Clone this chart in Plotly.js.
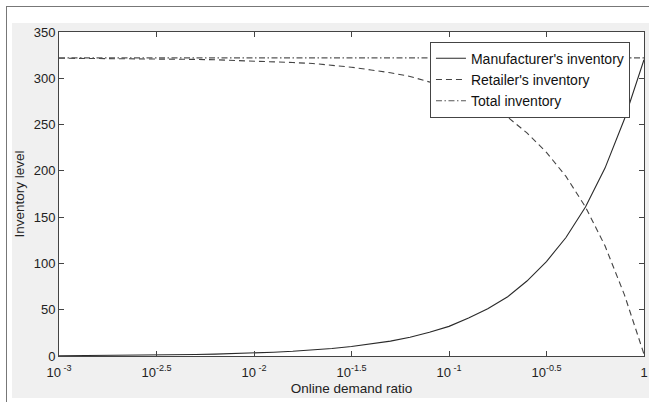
<!DOCTYPE html>
<html>
<head>
<meta charset="utf-8">
<script src="https://cdn.plot.ly/plotly-3.0.1.min.js"></script>
<style>
html,body{margin:0;padding:0;background:#fff;width:649px;height:402px;overflow:hidden;}
#frame{position:absolute;left:6px;top:6px;width:660px;height:420px;border-left:1.5px solid #777;border-top:1.5px solid #777;}
#chart{position:absolute;left:12px;top:23px;width:637px;height:375px;}
</style>
</head>
<body>
<div id="frame"></div>
<div id="chart"></div>
<script>
// Online demand ratio (x, log scale)
const ratio = [0.001, 0.00126, 0.00158, 0.002, 0.00251, 0.00316, 0.00398, 0.00501, 0.00631, 0.00794,
  0.01, 0.0126, 0.0158, 0.02, 0.0251, 0.0316, 0.0398, 0.0501, 0.0631, 0.0794,
  0.1, 0.126, 0.158, 0.2, 0.251, 0.316, 0.398, 0.501, 0.631, 0.794, 1];
const manufacturer = [0.32, 0.41, 0.51, 0.64, 0.81, 1.02, 1.28, 1.61, 2.03, 2.56,
  3.2, 4.1, 5.1, 6.4, 8.1, 10.2, 12.8, 16.1, 20.3, 25.6,
  32, 41, 51, 64, 81, 102, 128, 161, 203, 256, 320];
const retailer = [321.7, 321.6, 321.5, 321.4, 321.2, 321, 320.7, 320.4, 320, 319.4,
  319, 318, 317, 316, 314, 312, 309, 306, 302, 296,
  290, 281, 271, 258, 241, 220, 194, 161, 119, 66, 2];
const total = [322, 322, 322, 322, 322, 322, 322, 322, 322, 322,
  322, 322, 322, 322, 322, 322, 322, 322, 322, 322,
  322, 322, 322, 322, 322, 322, 322, 322, 322, 322, 322];
const seriesNames = ["Manufacturer's inventory", "Retailer's inventory", "Total inventory"];
const xTickVals = [0.001, 0.00316228, 0.01, 0.0316228, 0.1, 0.316228, 1];
const xTickText = ["10<sup> -3</sup>", "10<sup>-2.5</sup>", "10<sup> -2</sup>", "10<sup>-1.5</sup>", "10<sup> -1</sup>", "10<sup>-0.5</sup>", "1"];
const yTickVals = [0, 50, 100, 150, 200, 250, 300, 350];

const traces = [
  {x: ratio, y: manufacturer, name: seriesNames[0], mode: 'lines', line: {color: '#2a2a2a', width: 1.1, dash: 'solid'}},
  {x: ratio, y: retailer, name: seriesNames[1], mode: 'lines', line: {color: '#444', width: 1.1, dash: '6px,4px'}},
  {x: ratio, y: total, name: seriesNames[2], mode: 'lines', line: {color: '#555', width: 1.1, dash: '6px,2.5px,1.5px,2.5px'}}
];

const fam = 'Liberation Sans, Arial, sans-serif';
const axisCommon = {
  showline: true, linecolor: '#444', linewidth: 1, mirror: 'ticks',
  ticks: 'inside', ticklen: 5, tickcolor: '#444', showgrid: false, zeroline: false,
  tickfont: {family: fam, size: 13, color: '#222'}
};

const layout = {
  width: 637, height: 375,
  margin: {l: 47, r: 5, t: 9, b: 42},
  paper_bgcolor: '#f0f0f0', plot_bgcolor: '#ffffff',
  font: {family: fam, size: 13, color: '#222'},
  showlegend: true,
  legend: {x: 0.976, xanchor: 'right', y: 0.97, yanchor: 'top', bgcolor: '#fff', bordercolor: '#444', borderwidth: 1,
    font: {size: 14, color: '#111'}, tracegroupgap: 0, itemwidth: 30},
  xaxis: Object.assign({}, axisCommon, {
    type: 'log', range: [-3, 0], tickmode: 'array', tickvals: xTickVals, ticktext: xTickText,
    ticklabelstandoff: 4,
    title: {text: 'Online demand ratio', standoff: 4, font: {size: 13.5, color: '#222'}}
  }),
  yaxis: Object.assign({}, axisCommon, {
    range: [0, 350], tickmode: 'array', tickvals: yTickVals,
    title: {text: 'Inventory level', standoff: 5, font: {size: 13.5, color: '#222'}}
  })
};

Plotly.newPlot('chart', traces, layout, {displayModeBar: false, staticPlot: true});
</script>
</body>
</html>
